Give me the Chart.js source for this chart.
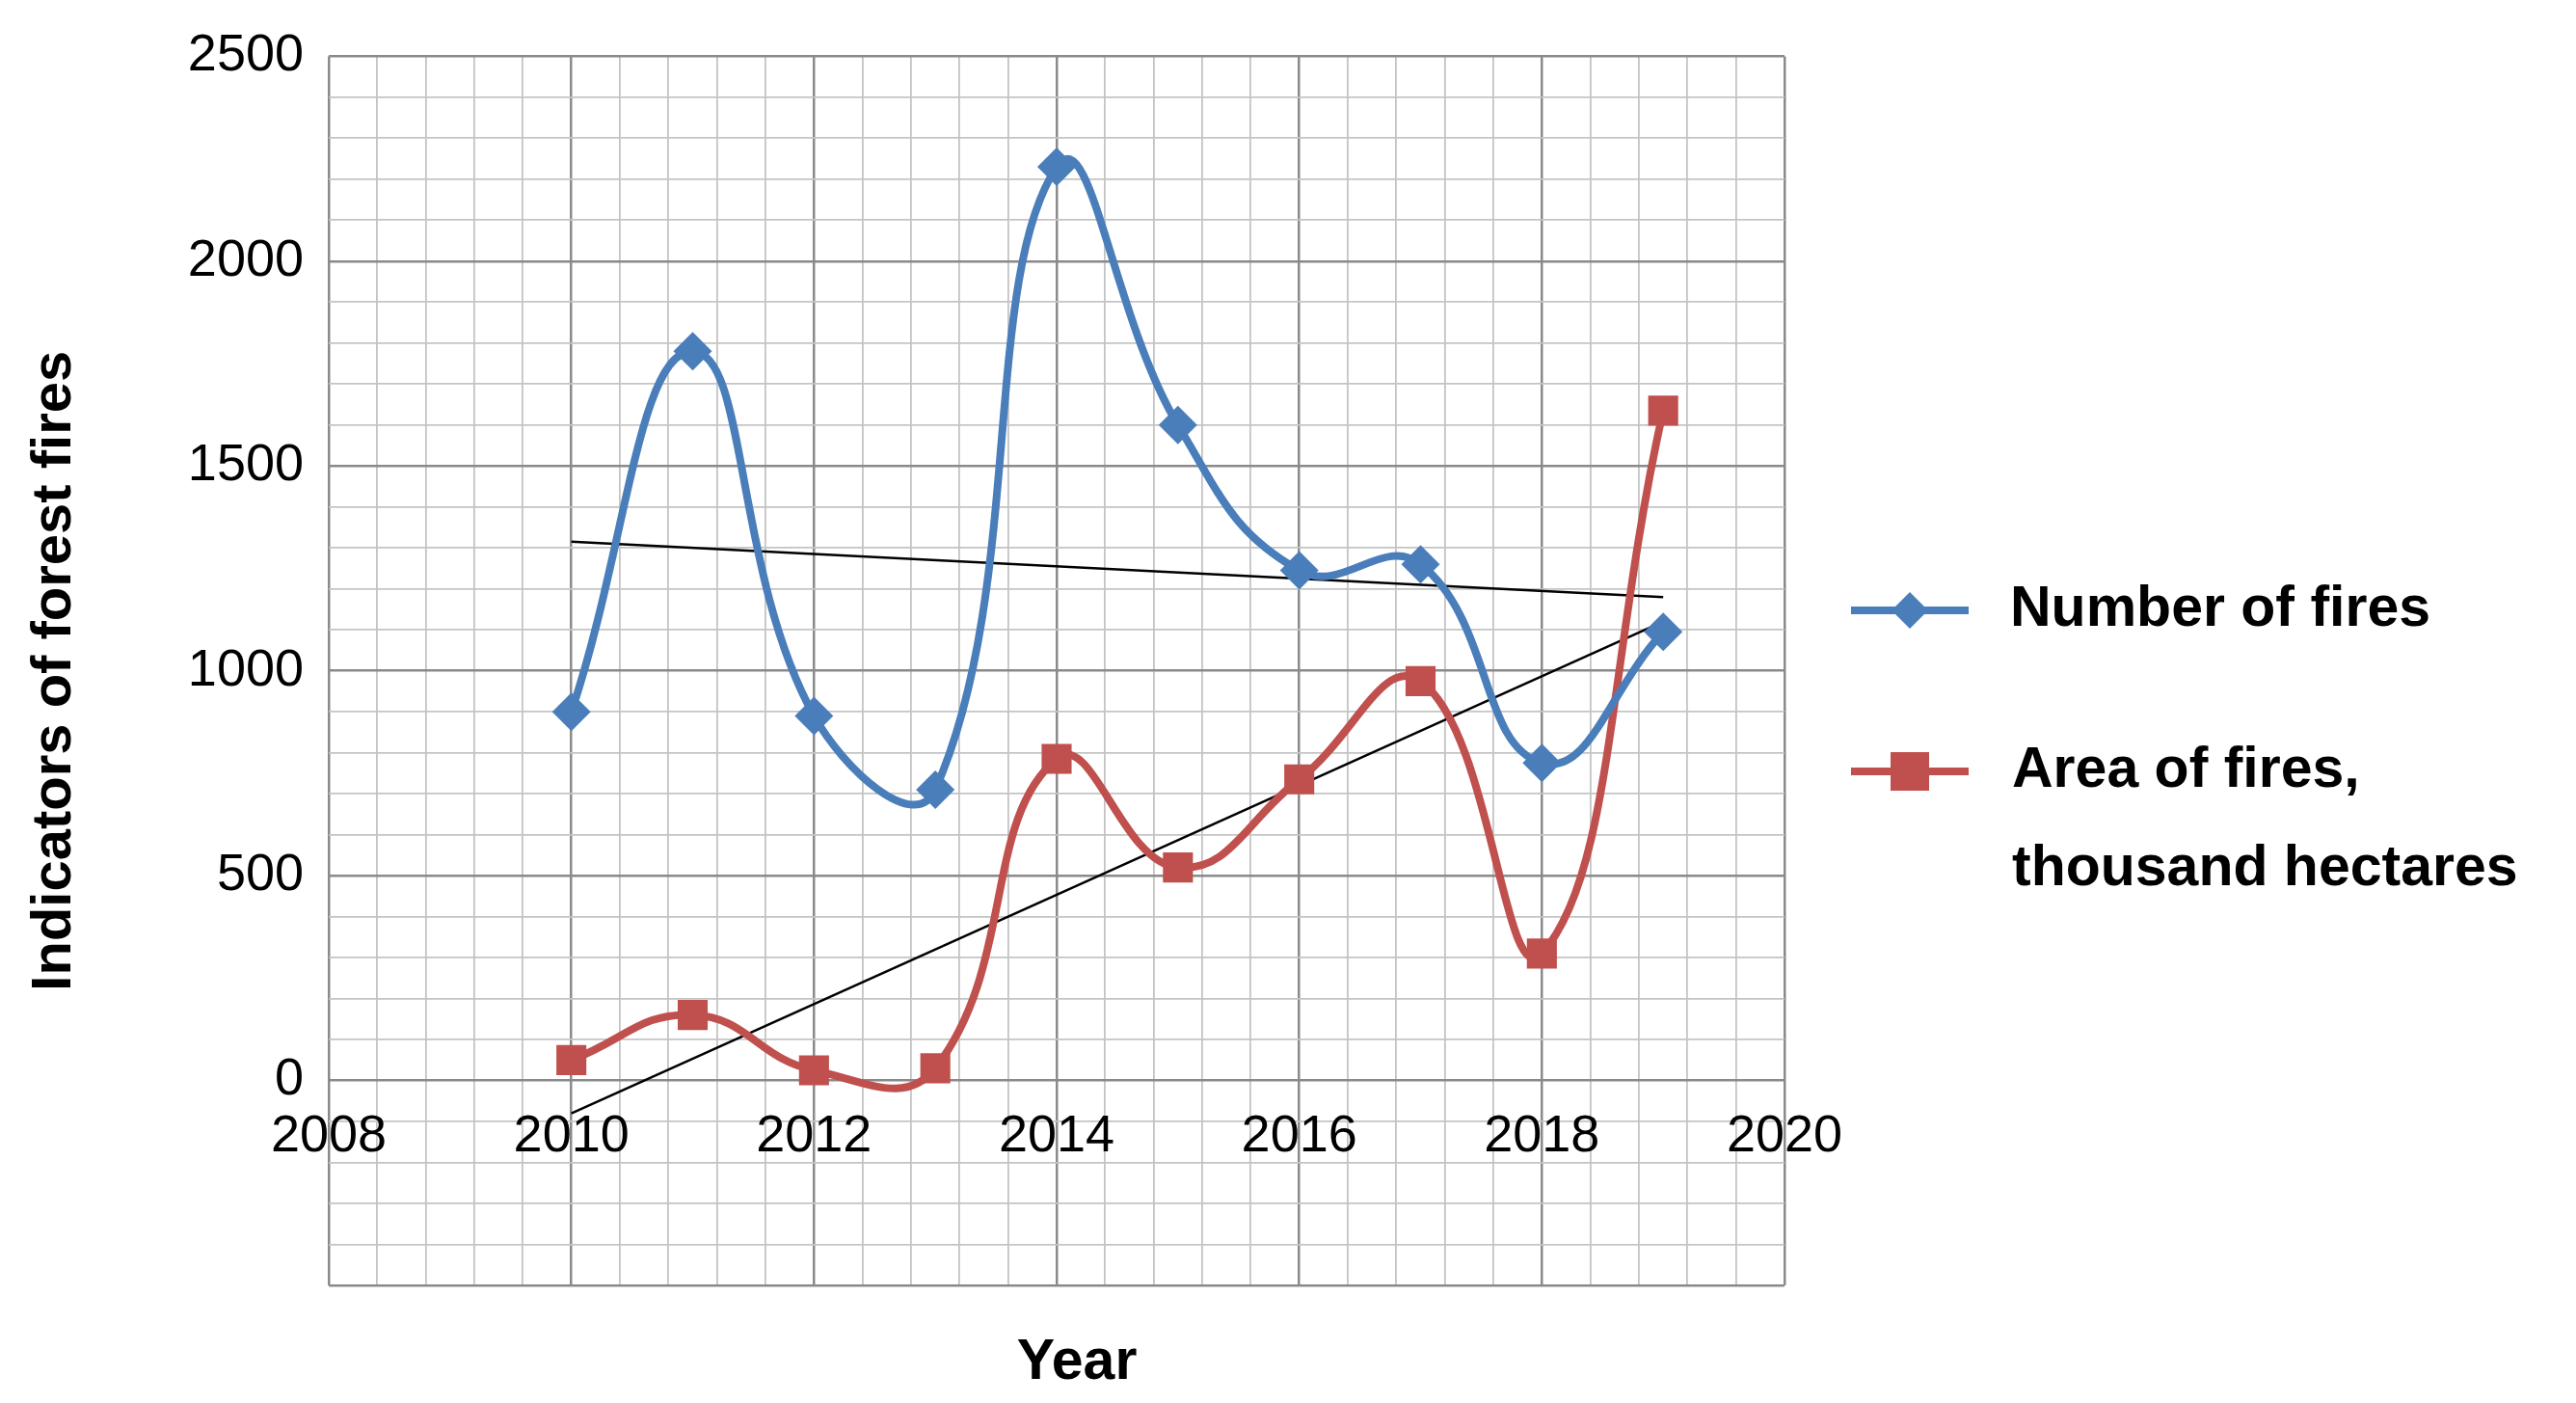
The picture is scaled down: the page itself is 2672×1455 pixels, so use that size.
<!DOCTYPE html>
<html><head><meta charset="utf-8">
<script src="https://cdn.jsdelivr.net/npm/chart.js@4/dist/chart.umd.min.js"></script>
<style>html,body{margin:0;padding:0;background:#fff}canvas{display:block}</style>
</head><body>
<canvas id="c" width="2672" height="1455"></canvas>
<script>
const years = [2010, 2011, 2012, 2013, 2014, 2015, 2016, 2017, 2018, 2019];
const numberOfFires = [900, 1780, 890, 710, 2230, 1600, 1245, 1260, 775, 1095];
const areaOfFires = [50, 160, 25, 30, 785, 520, 735, 975, 310, 1635];
const trendFiresYears = [2010, 2019];
const trendFires = [1315, 1180];
const trendAreaYears = [2010, 2019];
const trendArea = [-80, 1120];
const seriesNames = ['Number of fires', ['Area of fires,', 'thousand hectares']];
const xTickLabels = [2008, 2010, 2012, 2014, 2016, 2018, 2020];
const yTickLabels = [0, 500, 1000, 1500, 2000, 2500];

const BLUE = '#4a7ebb', RED = '#c0504d';
const near = (v, arr) => arr.find(a => Math.abs(a - v) < 1e-6);

const legendPlugin = {
  id: 'customLegend',
  afterDraw(chart) {
    const ctx = chart.ctx;
    ctx.save();
    ctx.font = 'bold 59px "Liberation Sans", Arial, sans-serif';
    ctx.textBaseline = 'middle';
    const lx = 1920, lw = 122;
    let y = 633;
    ctx.strokeStyle = BLUE; ctx.lineWidth = 8;
    ctx.beginPath(); ctx.moveTo(lx, y); ctx.lineTo(lx + lw, y); ctx.stroke();
    ctx.fillStyle = BLUE;
    ctx.beginPath(); const cx = lx + lw / 2, r = 19;
    ctx.moveTo(cx, y - r); ctx.lineTo(cx + r, y); ctx.lineTo(cx, y + r); ctx.lineTo(cx - r, y); ctx.closePath(); ctx.fill();
    ctx.fillStyle = '#000';
    ctx.fillText(seriesNames[0], 2085, y);
    y = 800;
    ctx.strokeStyle = RED; ctx.lineWidth = 8;
    ctx.beginPath(); ctx.moveTo(lx, y); ctx.lineTo(lx + lw, y); ctx.stroke();
    ctx.fillStyle = RED; ctx.fillRect(cx - 20, y - 20, 40, 40);
    ctx.fillStyle = '#000';
    ctx.fillText(seriesNames[1][0], 2087, y);
    ctx.fillText(seriesNames[1][1], 2087, y + 102);
    ctx.textAlign = 'center';
    ctx.fillText('Year', 1117, 1414);
    ctx.restore();
  }
};

new Chart(document.getElementById('c'), {
  type: 'line',
  data: {
    datasets: [
      { label: 'Number of fires', data: years.map((x, i) => ({x, y: numberOfFires[i]})),
        borderColor: BLUE, backgroundColor: BLUE, borderWidth: 8, tension: 0.45,
        pointStyle: 'rectRot', pointRadius: 20, pointBorderWidth: 0 },
      { label: 'Area of fires, thousand hectares', data: years.map((x, i) => ({x, y: areaOfFires[i]})),
        borderColor: RED, backgroundColor: RED, borderWidth: 8, tension: 0.45,
        pointStyle: 'rect', pointRadius: 22, pointBorderWidth: 0 },
      { label: 'trend1', data: trendFiresYears.map((x, i) => ({x, y: trendFires[i]})),
        borderColor: '#000', borderWidth: 2.5, pointRadius: 0, tension: 0 },
      { label: 'trend2', data: trendAreaYears.map((x, i) => ({x, y: trendArea[i]})),
        borderColor: '#000', borderWidth: 2.5, pointRadius: 0, tension: 0 }
    ]
  },
  options: {
    responsive: false, animation: false,
    layout: { padding: { top: 46, bottom: 122, left: 22, right: 821 } },
    plugins: { legend: { display: false }, tooltip: { enabled: false } },
    scales: {
      x: {
        type: 'linear', min: 2008, max: 2020, position: { y: 0 },
        afterBuildTicks(s) { const t = []; for (let i = 0; i <= 30; i++) t.push({ value: 2008 + i * 0.4 }); s.ticks = t; },
        ticks: { autoSkip: false, maxRotation: 0, padding: 26, color: '#000',
          font: { size: 54, family: '"Liberation Sans", Arial, sans-serif' },
          callback: v => { const m = near(v, xTickLabels); return m !== undefined ? String(m) : ''; } },
        grid: { drawTicks: false, lineWidth: c => near(c.tick.value, xTickLabels) !== undefined ? 2.5 : 1.8,
          color: c => near(c.tick.value, xTickLabels) !== undefined ? '#8a8a8a' : '#c4c4c4' },
        border: { display: false }
      },
      y: {
        min: -500, max: 2500,
        afterBuildTicks(s) { const t = []; for (let v = -500; v <= 2500; v += 100) t.push({ value: v }); s.ticks = t; },
        afterFit(s) { s.width = 319; },
        ticks: { autoSkip: false, padding: 26, color: '#000',
          font: { size: 54, family: '"Liberation Sans", Arial, sans-serif' },
          callback: v => { const m = near(v, yTickLabels); return m !== undefined ? String(m) : ''; } },
        grid: { drawTicks: false, lineWidth: c => c.tick.value % 500 === 0 ? 2.5 : 1.8,
          color: c => c.tick.value % 500 === 0 ? '#8a8a8a' : '#c4c4c4' },
        border: { display: false },
        title: { display: true, text: 'Indicators of forest fires', color: '#000', padding: { top: 0, bottom: 30 },
          font: { size: 58, weight: 'bold', family: '"Liberation Sans", Arial, sans-serif' } }
      }
    }
  },
  plugins: [legendPlugin]
});
</script>
</body></html>
